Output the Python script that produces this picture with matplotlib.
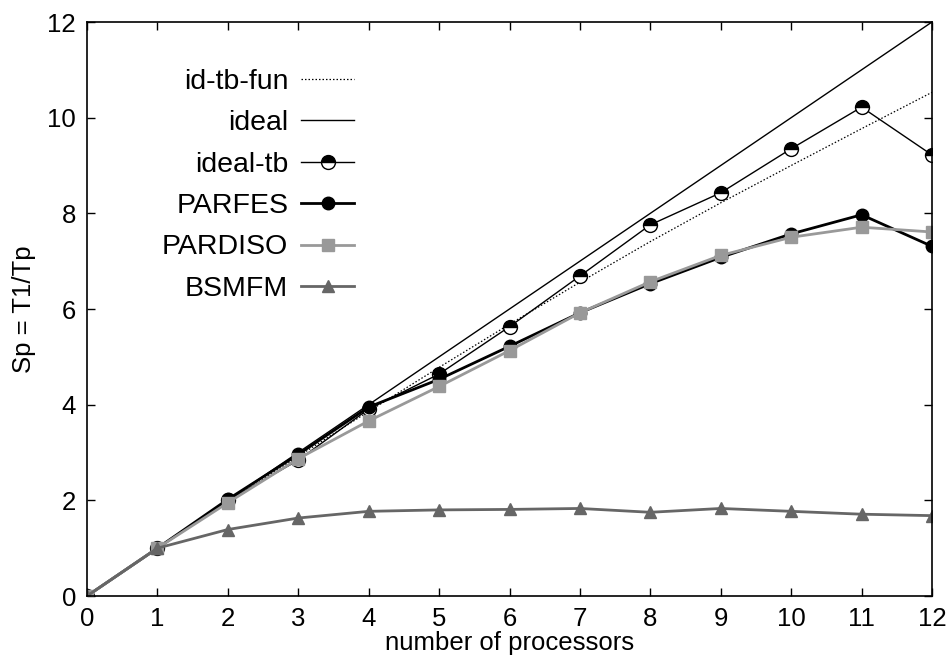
import matplotlib
matplotlib.use("Agg")
import matplotlib.pyplot as plt

plt.rcParams['font.family'] = ['Liberation Sans', 'DejaVu Sans']
plt.rcParams['font.size'] = 18.5

procs = [0, 1, 2, 3, 4, 5, 6, 7, 8, 9, 10, 11, 12]
id_tb_fun = [0, 1.0, 1.97, 2.92, 3.86, 4.78, 5.68, 6.56, 7.41, 8.22, 9.00, 9.77, 10.53]
ideal = [0, 1, 2, 3, 4, 5, 6, 7, 8, 9, 10, 11, 12]
ideal_tb = [0, 1.0, 2.0, 2.84, 3.91, 4.64, 5.63, 6.69, 7.76, 8.43, 9.35, 10.22, 9.22]
parfes = [0, 1.0, 2.02, 2.96, 3.95, 4.53, 5.22, 5.92, 6.53, 7.08, 7.57, 7.97, 7.31]
pardiso = [0, 1.0, 1.95, 2.87, 3.66, 4.38, 5.13, 5.92, 6.57, 7.12, 7.50, 7.71, 7.61]
bsmfm = [0, 1.0, 1.39, 1.63, 1.77, 1.80, 1.81, 1.83, 1.75, 1.83, 1.77, 1.71, 1.68]

xticks = list(range(0, 13))
yticks = [0, 2, 4, 6, 8, 10, 12]

fig = plt.figure(figsize=(9.48, 6.57), dpi=100)
ax = fig.add_axes([87/948, 61/657, (932-87)/948, (596-22)/657])

ax.plot(procs, id_tb_fun, color='black', lw=0.9, linestyle=(0, (1.2, 1.6)), label='id-tb-fun')
ax.plot(procs, ideal, color='black', lw=1.0, label='ideal')
ax.plot(procs, ideal_tb, color='black', lw=1.0, marker='o', markersize=10,
        fillstyle='top', markerfacecolor='black', markerfacecoloralt='white',
        markeredgecolor='black', markeredgewidth=1.0, label='ideal-tb')
ax.plot(procs, parfes, color='black', lw=2.0, marker='o', markersize=9,
        markerfacecolor='black', markeredgecolor='black', label='PARFES')
ax.plot(procs, pardiso, color='#999999', lw=2.0, marker='s', markersize=9,
        markerfacecolor='#999999', markeredgecolor='#999999', label='PARDISO')
ax.plot(procs, bsmfm, color='#666666', lw=2.0, marker='^', markersize=8.5,
        markerfacecolor='#666666', markeredgecolor='#666666', label='BSMFM')

ax.set_xlim(0, 12)
ax.set_ylim(0, 12)
ax.set_xticks(xticks)
ax.set_yticks(yticks)
ax.tick_params(direction='in', length=6, width=1, top=True, right=True, pad=8)
for s in ax.spines.values():
    s.set_linewidth(1.2)

ax.set_xlabel('number of processors', labelpad=0)
ax.set_ylabel('Sp = T1/Tp', labelpad=8)

leg = ax.legend(loc='upper right', bbox_to_anchor=(354/948, (657-69)/657),
                bbox_transform=fig.transFigure, frameon=False, markerfirst=False,
                fontsize=20.5, handlelength=1.86, handletextpad=0.45, labelspacing=0.54,
                borderpad=0, borderaxespad=0)

fig.savefig('out.png', dpi=100)
